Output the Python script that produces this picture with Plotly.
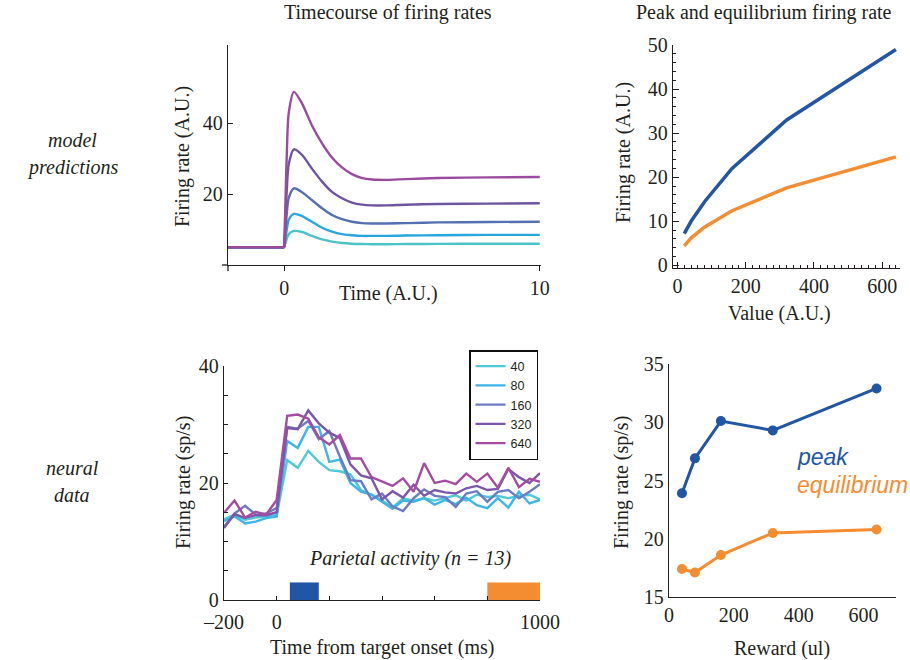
import plotly.graph_objects as go

W, H = 910, 660
def fx(p): return p / W
def fy(p): return 1 - p / H

SERIF = "Liberation Serif"
SANS = "Liberation Sans"
INK = "#231f20"

# ---------------- data ----------------
# Model timecourse (A.U.)
model_values = ["40", "80", "160", "320", "640"]
model_time = [-2.2, 0, 0.05, 0.1, 0.18, 0.38, 0.7, 1.08, 1.48, 1.87, 2.26, 2.65,
              3.05, 3.44, 4.0, 4.75, 6, 8, 10]
model_rate_40 = [5, 5, 6.2, 7.4, 8.7, 9.6, 9.3, 8.2, 7.2, 6.6, 6.2, 6.0,
                 5.9, 5.85, 5.85, 5.9, 5.95, 6.0, 6.0]
model_rate_80 = [5, 5, 7.5, 10.0, 12.8, 14.4, 13.8, 12.2, 10.5, 9.4, 8.7, 8.4,
                 8.2, 8.2, 8.2, 8.3, 8.4, 8.5, 8.5]
model_rate_160 = [5, 5, 10.0, 14.5, 19.0, 21.6, 20.5, 18.3, 16.0, 14.1, 12.9, 12.2,
                  11.8, 11.7, 11.7, 11.8, 12.0, 12.1, 12.2]
model_rate_320 = [5, 5, 13.0, 21.0, 28.5, 32.6, 31.0, 27.2, 23.5, 20.6, 18.8, 17.6,
                  17.0, 16.8, 16.8, 17.0, 17.2, 17.3, 17.4]
model_rate_640 = [5, 5, 18.0, 31.0, 43.0, 48.8, 45.5, 39.4, 34.3, 30.3, 27.5, 25.6,
                  24.5, 24.1, 24.0, 24.2, 24.5, 24.7, 24.8]
model_colors = ["#4cc3c7", "#29a6dc", "#5470b0", "#6d55a1", "#9a4b9d"]
onset_index = 1  # index of t = 0 in model_time

# Model peak / equilibrium vs value
value_au = [20, 40, 80, 160, 320, 640]
model_peak = [7.2, 10.0, 14.5, 22.0, 33.0, 49.0]
model_equil = [4.4, 6.2, 8.7, 12.4, 17.6, 24.6]

# Neural data (sp/s), 40 ms bins
neural_time = list(range(-200, 1001, 40))
neural_40 = [13.8, 14.6, 13.7, 14.1, 14.3, 14.5, 23.9, 22.6, 25.5, 23.6, 22.2,
             22.0, 21.5, 18.8, 18.0, 17.0, 15.8, 17.4, 17.0, 17.4, 17.0, 17.4,
             17.9, 17.0, 18.0, 17.6, 17.8, 17.4, 17.8, 18.0, 17.2]
neural_80 = [13.5, 14.3, 13.1, 13.4, 14.0, 14.3, 27.2, 26.0, 29.6, 29.6, 23.6,
             24.0, 20.0, 18.5, 18.0, 16.8, 15.6, 17.0, 16.8, 17.4, 16.3, 17.1,
             16.4, 17.5, 16.2, 15.7, 17.4, 15.8, 18.5, 16.5, 17.1]
neural_160 = [12.5, 14.8, 16.1, 14.6, 14.8, 15.7, 29.6, 29.3, 30.6, 27.5, 28.9,
              24.5, 20.5, 20.3, 17.2, 18.2, 16.0, 15.2, 17.4, 18.9, 17.8, 17.6,
              15.9, 18.2, 18.6, 16.8, 18.5, 18.8, 17.4, 18.5, 19.8]
neural_320 = [12.3, 14.7, 14.0, 14.5, 14.5, 15.0, 29.4, 29.2, 32.4, 30.2, 28.6,
              27.7, 23.2, 21.3, 20.8, 17.2, 18.6, 17.5, 19.7, 17.8, 18.8, 18.4,
              18.2, 19.1, 19.5, 18.8, 19.0, 22.4, 21.0, 20.0, 21.7]
neural_640 = [14.9, 17.0, 14.1, 15.1, 14.6, 17.1, 31.5, 31.7, 31.0, 27.8, 26.6,
              28.2, 24.2, 24.2, 21.0, 20.2, 19.5, 20.8, 18.5, 23.4, 20.0, 20.4,
              19.8, 21.6, 20.2, 21.6, 19.2, 22.6, 19.3, 20.7, 20.2]
neural_labels = ["40", "80", "160", "320", "640"]
neural_colors = ["#4fc8d8", "#3db5e8", "#6b7dc2", "#7c56aa", "#a54ca2"]

peak_window = [50, 160]
equil_window = [800, 1000]
window_height = 3

# Neural peak / equilibrium vs reward
reward_ul = [40, 80, 160, 320, 640]
neural_peak = [23.9, 26.9, 30.1, 29.3, 32.9]
neural_equil = [17.4, 17.1, 18.6, 20.5, 20.8]

BLUE = "#2255a4"
ORANGE = "#f48c32"

# ---------------- figure ----------------
fig = go.Figure()

model_series = [model_rate_40, model_rate_80, model_rate_160, model_rate_320, model_rate_640]
for lab, ys, c in zip(model_values, model_series, model_colors):
    fig.add_trace(go.Scatter(x=model_time[:onset_index + 1], y=ys[:onset_index + 1],
                             mode="lines", xaxis="x", yaxis="y",
                             line=dict(color=c, width=2.4),
                             showlegend=False, hoverinfo="skip"))
    fig.add_trace(go.Scatter(x=model_time[onset_index:], y=ys[onset_index:],
                             mode="lines", xaxis="x", yaxis="y",
                             line=dict(color=c, width=2.4, shape="spline", smoothing=0.8),
                             showlegend=False, hoverinfo="skip"))

fig.add_trace(go.Scatter(x=value_au, y=model_peak, mode="lines", xaxis="x2", yaxis="y2",
                         line=dict(color=BLUE, width=3.5), showlegend=False))
fig.add_trace(go.Scatter(x=value_au, y=model_equil, mode="lines", xaxis="x2", yaxis="y2",
                         line=dict(color=ORANGE, width=3.5), showlegend=False))

neural_series = [neural_40, neural_80, neural_160, neural_320, neural_640]
for lab, ys, c in zip(neural_labels, neural_series, neural_colors):
    fig.add_trace(go.Scatter(x=neural_time, y=ys, mode="lines", xaxis="x3", yaxis="y3",
                             line=dict(color=c, width=2.4), name=lab, showlegend=True))

for win, c in [(peak_window, BLUE), (equil_window, ORANGE)]:
    fig.add_trace(go.Scatter(x=[win[0], win[1], win[1], win[0], win[0]],
                             y=[0, 0, window_height, window_height, 0],
                             mode="lines", fill="toself", fillcolor=c,
                             line=dict(width=0, color=c), xaxis="x3", yaxis="y3",
                             showlegend=False, hoverinfo="skip"))

fig.add_trace(go.Scatter(x=reward_ul, y=neural_peak, mode="lines+markers", xaxis="x4", yaxis="y4",
                         line=dict(color=BLUE, width=3), marker=dict(size=10, color=BLUE),
                         showlegend=False))
fig.add_trace(go.Scatter(x=reward_ul, y=neural_equil, mode="lines+markers", xaxis="x4", yaxis="y4",
                         line=dict(color=ORANGE, width=3), marker=dict(size=10, color=ORANGE),
                         showlegend=False))

tickfont = dict(family=SERIF, size=20, color=INK)
axcommon = dict(showgrid=False, zeroline=False, showline=True, linecolor=INK,
                linewidth=1.3, tickfont=tickfont, tickcolor=INK, automargin=False)

fig.update_layout(
    template="none",
    width=W, height=H, margin=dict(l=0, r=0, t=0, b=0, pad=0), autosize=False,
    paper_bgcolor="white", plot_bgcolor="white",
    xaxis=dict(domain=[fx(228), fx(541)], range=[-2.2, 10.05], tickvals=[0, 10],
               ticks="outside", ticklen=5, anchor="y", **axcommon),
    yaxis=dict(domain=[fy(265), fy(45)], range=[0, 62], tickvals=[20, 40],
               ticks="inside", ticklen=5, anchor="x", **axcommon),
    xaxis2=dict(domain=[fx(673), fx(900)], range=[-13, 652], tickvals=[0, 200, 400, 600],
                ticks="inside", ticklen=6, minor=dict(dtick=20, ticks="inside", ticklen=3, tickcolor=INK),
                anchor="y2", **axcommon),
    yaxis2=dict(domain=[fy(268), fy(45)], range=[-0.6, 50], tickvals=[0, 10, 20, 30, 40, 50],
                ticks="inside", ticklen=6, minor=dict(dtick=2, ticks="inside", ticklen=3, tickcolor=INK),
                anchor="x2", **axcommon),
    xaxis3=dict(domain=[fx(224), fx(540)], range=[-200, 1000],
                tickvals=[-200, 0, 200, 400, 600, 800, 1000],
                ticktext=["\u2013200", "0", "", "", "", "", "1000"],
                ticks="inside", ticklen=4, ticklabelstandoff=4, anchor="y3", **axcommon),
    yaxis3=dict(domain=[fy(600), fy(366)], range=[0, 40],
                tickvals=[0, 5, 10, 15, 20, 25, 30, 35, 40],
                ticktext=["0", "", "", "", "20", "", "", "", "40"],
                ticks="inside", ticklen=4, anchor="x3", **axcommon),
    xaxis4=dict(domain=[fx(669), fx(896)], range=[0, 700], tickvals=[0, 200, 400, 600],
                ticks="", anchor="y4", **axcommon),
    yaxis4=dict(domain=[fy(597), fy(364)], range=[15, 35], tickvals=[15, 20, 25, 30, 35],
                ticks="", anchor="x4", **axcommon),
    legend=dict(x=fx(469), y=fy(350), xanchor="left", yanchor="top",
                bordercolor="#111111", borderwidth=1.5, bgcolor="white",
                font=dict(family=SANS, size=12.5, color=INK),
                itemwidth=30, tracegroupgap=0),
)

# small axis overhangs of the model-timecourse panel (axes cross)
fig.add_shape(type="line", xref="paper", yref="paper", x0=fx(222), x1=fx(228), y0=fy(265), y1=fy(265),
              line=dict(color=INK, width=1.3))
fig.add_shape(type="line", xref="paper", yref="paper", x0=fx(228), x1=fx(228), y0=fy(265), y1=fy(271),
              line=dict(color=INK, width=1.3))

def ann(text, x, y, size=20, italic=False, angle=0, color=INK, family=SERIF):
    t = f"<i>{text}</i>" if italic else text
    fig.add_annotation(text=t, x=fx(x), y=fy(y), xref="paper", yref="paper",
                       showarrow=False, textangle=angle, xanchor="center", yanchor="middle",
                       font=dict(family=family, size=size, color=color))

ann("Timecourse of firing rates", 388, 13, size=20)
ann("Peak and equilibrium firing rate", 764, 13, size=20)
ann("model", 72, 140, italic=True)
ann("predictions", 72, 168, italic=True)
ann("neural", 72, 468, italic=True)
ann("data", 72, 495, italic=True)

ann("Firing rate (A.U.)", 182, 157, angle=-90)
ann("Time (A.U.)", 388, 293)
ann("Firing rate (A.U.)", 623, 153, angle=-90)
ann("Value (A.U.)", 779, 313)
ann("Firing rate (sp/s)", 183, 483, angle=-90)
ann("Time from target onset (ms)", 382, 647)
ann("Firing rate (sp/s)", 621, 483, angle=-90)
ann("Reward (ul)", 782, 648)
ann("Parietal activity (n = 13)", 410, 558, italic=True)
fig.add_annotation(text="<i>peak</i>", x=fx(795), y=fy(457), xref="paper", yref="paper",
                   showarrow=False, xanchor="left", yanchor="middle",
                   font=dict(family=SANS, size=23, color=BLUE))
fig.add_annotation(text="<i>equilibrium</i>", x=fx(795), y=fy(485), xref="paper", yref="paper",
                   showarrow=False, xanchor="left", yanchor="middle",
                   font=dict(family=SANS, size=23, color=ORANGE))

# remove the page's default body margin so the 910x660 figure fills the window
fig.write_html("out.html", config={"displayModeBar": False},
               post_script="document.body.style.margin='0';document.body.style.overflow='hidden';")
